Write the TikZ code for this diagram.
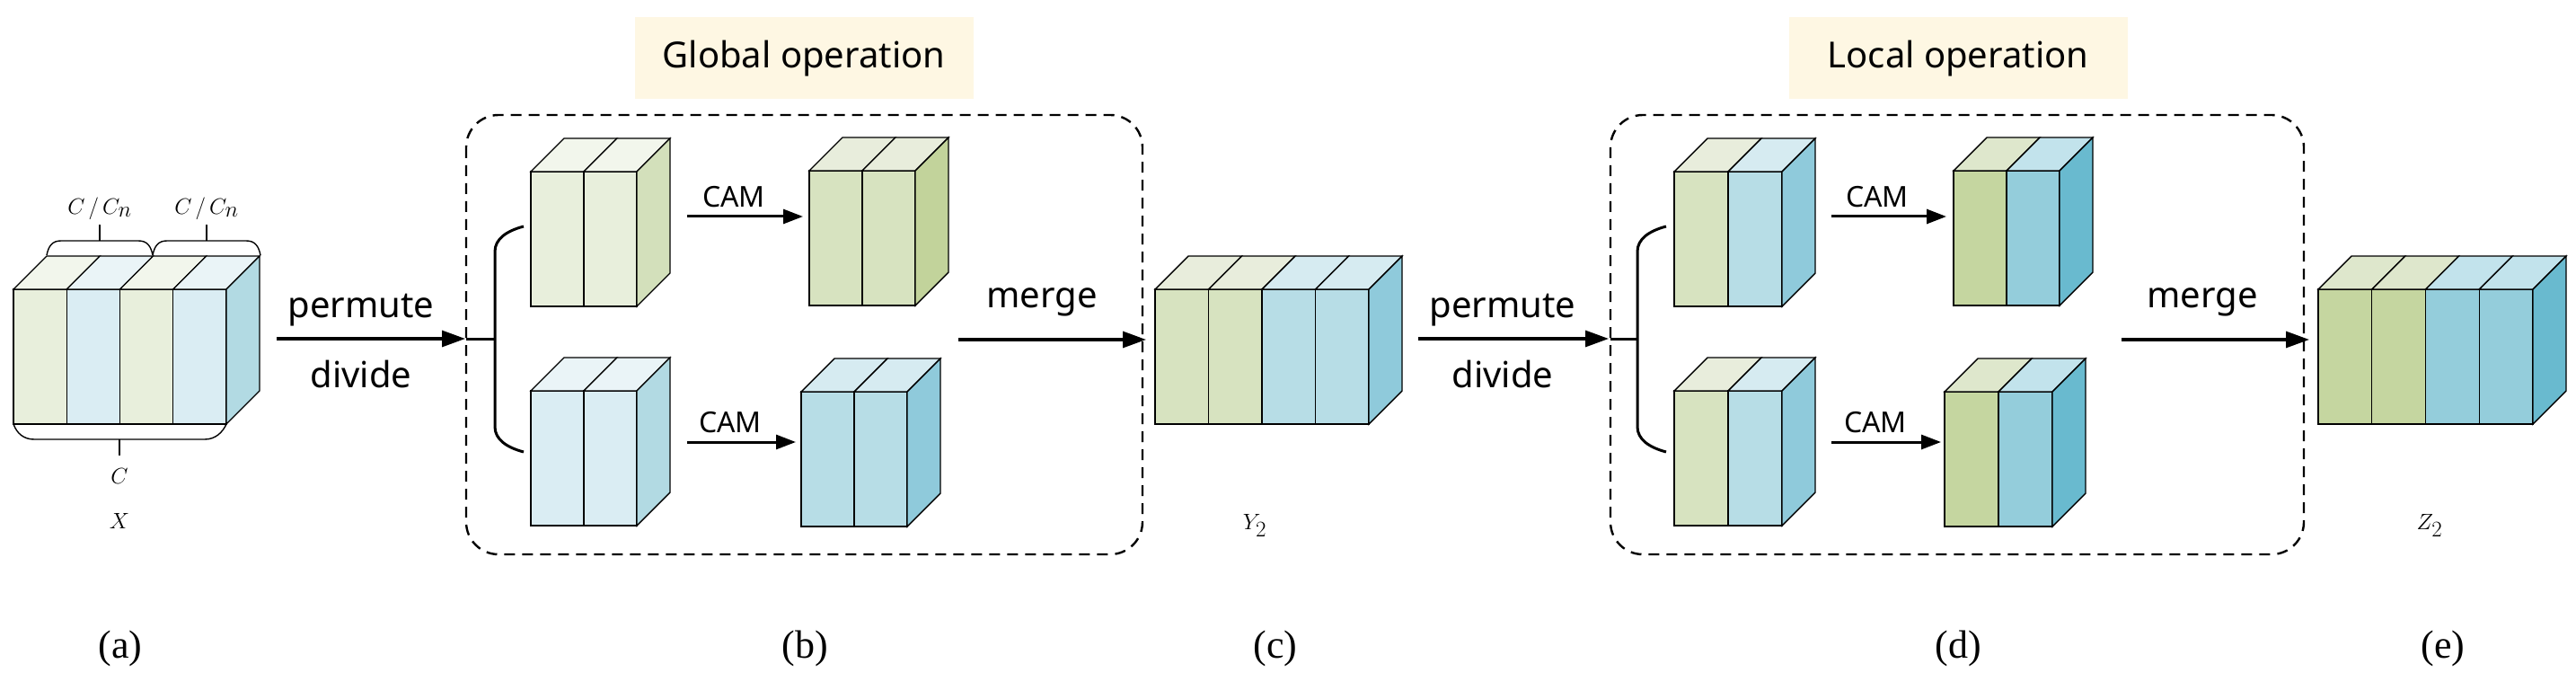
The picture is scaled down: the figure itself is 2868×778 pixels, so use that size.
\documentclass[tikz,border=0pt]{standalone}
\usepackage{fontspec}
\setmainfont{Liberation Serif}
\newfontfamily\sansf{Noto Sans}
\usetikzlibrary{arrows.meta}
\definecolor{gA}{HTML}{E8EFDC}\definecolor{gAt}{HTML}{F2F6EC}\definecolor{gAs}{HTML}{D3E0BB}
\definecolor{bA}{HTML}{DAEDF3}\definecolor{bAt}{HTML}{EAF4F7}\definecolor{bAs}{HTML}{B2DAE3}
\definecolor{gB}{HTML}{D7E3C0}\definecolor{gBt}{HTML}{E8EDDC}\definecolor{gBs}{HTML}{C2D39B}
\definecolor{bB}{HTML}{B7DDE6}\definecolor{bBt}{HTML}{D6EBF1}\definecolor{bBs}{HTML}{8FCADB}
\definecolor{gC}{HTML}{C5D6A0}\definecolor{gCt}{HTML}{DEE7CC}
\definecolor{bC}{HTML}{94CDDB}\definecolor{bCt}{HTML}{C2E3EC}\definecolor{bCs}{HTML}{69BACF}
\definecolor{tag}{HTML}{FEF7E3}
\def\dd{37}
\newcommand\colm[6]{%
 \filldraw[fill=#5,edge] (#1,#2) rectangle ++(#3,#4);
 \filldraw[fill=#6,edge] (#1,#2) -- ++(\dd,-\dd) -- ++(#3,0) -- ++(-\dd,\dd) -- cycle;}
\newcommand\sidef[4]{%
 \filldraw[fill=#4,edge] (#1,#2) -- ++(\dd,-\dd) -- ++(0,#3) -- ++(-\dd,\dd) -- cycle;}
\begin{document}
\begin{tikzpicture}[x=1pt,y=-1pt,
 edge/.style={draw=black,line width=1.4pt},
 flow/.style={line width=3.2pt,-{Triangle[length=26pt,width=18pt]}},
 cam/.style={line width=3pt,-{Triangle[length=22pt,width=16pt]}},
 brk/.style={line width=3pt},
 box/.style={dashed,line width=2.4pt,dash pattern=on 12pt off 8pt,rounded corners=36pt},
 sans/.style={font=\sansf\fontsize{40}{48}\selectfont},
 camt/.style={font=\sansf\fontsize{32}{38}\selectfont},
 mathl/.style={font=\fontsize{34}{40}\selectfont},
 sub/.style={font=\fontsize{44}{52}\selectfont},
 tagbox/.style={fill=tag,font=\sansf\fontsize{40}{48}\selectfont,minimum width=377pt,minimum height=91pt,inner sep=0pt}]
\useasboundingbox (0,0) rectangle (2868,778);
% (a) cube X
\colm{15}{322}{59.25}{150}{gA}{gAt}
\colm{74.25}{322}{59.25}{150}{bA}{bAt}
\colm{133.5}{322}{59.25}{150}{gA}{gAt}
\colm{192.75}{322}{59.25}{150}{bA}{bAt}
\sidef{252}{322}{150}{bAs}
\draw[line width=1.4pt] (52,284) .. controls (54,274) and (58,268) .. (68,268) -- (154,268) .. controls (164,268) and (168,274) .. (170,284);
\draw[line width=1.4pt] (170,284) .. controls (172,274) and (176,268) .. (186,268) -- (274,268) .. controls (284,268) and (288,274) .. (290,284);
\draw[line width=1.4pt] (111,268) -- (111,250) (230,268) -- (230,250);
\draw[line width=1.4pt] (15,472) .. controls (19,483) and (27,489) .. (38,489) -- (228,489) .. controls (240,489) and (248,481) .. (252,472);
\draw[line width=1.4pt] (133,489) -- (133,507);
\node[mathl] (cn1) at (111,232) {$C\,/\,C_n$};
\node[mathl] (cn2) at (230,232) {$C\,/\,C_n$};
\node[mathl] (cc) at (133,530) {$C$};
\node[mathl,font=\fontsize{38}{44}\selectfont] (xl) at (133,580) {$X$};
% arrow 1
\coordinate (a1s) at (308,377); \coordinate (a1e) at (518,377);
\draw[flow] (a1s) -- (a1e);
\node[sans] (p1) at (402,345) {permute};
\node[sans] (d1) at (402,416) {divide};
% box b
\draw[box] (519,128) rectangle (1272,617);
\node[tagbox] (glob) at (895,65) {Global operation};
\coordinate (bj) at (551,377);
\draw[brk] (519,377) -- (bj);
\draw[brk] (583,252) .. controls (564,257) and (551,266) .. (551,280) -- (551,475) .. controls (551,489) and (564,498) .. (583,503);
\colm{591}{191}{59}{150}{gA}{gAt}\colm{650}{191}{59}{150}{gA}{gAt}\sidef{709}{191}{150}{gAs}
\colm{591}{435}{59}{150}{bA}{bAt}\colm{650}{435}{59}{150}{bA}{bAt}\sidef{709}{435}{150}{bAs}
\colm{901}{190}{59}{150}{gB}{gBt}\colm{960}{190}{59}{150}{gB}{gBt}\sidef{1019}{190}{150}{gBs}
\colm{892}{436}{59}{150}{bB}{bBt}\colm{951}{436}{59}{150}{bB}{bBt}\sidef{1010}{436}{150}{bBs}
\coordinate (c1s) at (765,241); \coordinate (c1e) at (894,241);
\coordinate (c2s) at (765,492); \coordinate (c2e) at (886,492);
\draw[cam] (c1s) -- (c1e); \draw[cam] (c2s) -- (c2e);
\node[camt] (cam1) at (817,219) {CAM};
\node[camt] (cam2) at (813,470) {CAM};
\coordinate (m1s) at (1067,378); \coordinate (m1e) at (1276,378);
\draw[flow] (m1s) -- (m1e);
\node[sans] (mg1) at (1160,336) {merge};
% (c) Y2
\colm{1286}{322}{59.5}{150}{gB}{gBt}\colm{1345.5}{322}{59.5}{150}{gB}{gBt}
\colm{1405}{322}{59.5}{150}{bB}{bBt}\colm{1464.5}{322}{59.5}{150}{bB}{bBt}
\sidef{1524}{322}{150}{bBs}
\node[mathl,font=\fontsize{38}{44}\selectfont] (yl) at (1397,585) {$Y_2$};
% arrow 2
\coordinate (a2s) at (1579,377); \coordinate (a2e) at (1791,377);
\draw[flow] (a2s) -- (a2e);
\node[sans] (p2) at (1673,345) {permute};
\node[sans] (d2) at (1673,416) {divide};
% box d
\draw[box] (1793,128) rectangle (2565,617);
\node[tagbox] (loc) at (2180,65) {Local operation};
\coordinate (dj) at (1823,377);
\draw[brk] (1793,377) -- (dj);
\draw[brk] (1855,252) .. controls (1836,257) and (1823,266) .. (1823,280) -- (1823,475) .. controls (1823,489) and (1836,498) .. (1855,503);
\colm{1864}{191}{60}{150}{gB}{gBt}\colm{1924}{191}{60}{150}{bB}{bBt}\sidef{1984}{191}{150}{bBs}
\colm{1864}{435}{60}{150}{gB}{gBt}\colm{1924}{435}{60}{150}{bB}{bBt}\sidef{1984}{435}{150}{bBs}
\colm{2175}{190}{59}{150}{gC}{gCt}\colm{2234}{190}{59}{150}{bC}{bCt}\sidef{2293}{190}{150}{bCs}
\colm{2165}{436}{60}{150}{gC}{gCt}\colm{2225}{436}{60}{150}{bC}{bCt}\sidef{2285}{436}{150}{bCs}
\coordinate (c3s) at (2039,241); \coordinate (c3e) at (2167,241);
\coordinate (c4s) at (2039,492); \coordinate (c4e) at (2161,492);
\draw[cam] (c3s) -- (c3e); \draw[cam] (c4s) -- (c4e);
\node[camt] (cam3) at (2090,219) {CAM};
\node[camt] (cam4) at (2088,470) {CAM};
\coordinate (m2s) at (2362,378); \coordinate (m2e) at (2571,378);
\draw[flow] (m2s) -- (m2e);
\node[sans] (mg2) at (2452,336) {merge};
% (e) Z2
\colm{2581}{322}{59.75}{150}{gC}{gCt}\colm{2640.75}{322}{59.75}{150}{gC}{gCt}
\colm{2700.5}{322}{59.75}{150}{bC}{bCt}\colm{2760.25}{322}{59.75}{150}{bC}{bCt}
\sidef{2820}{322}{150}{bCs}
\node[mathl,font=\fontsize{38}{44}\selectfont] (zl) at (2705,585) {$Z_2$};
% captions
\node[sub] (la) at (134,722) {(a)};
\node[sub] (lb) at (896,722) {(b)};
\node[sub] (lc) at (1420,722) {(c)};
\node[sub] (ld) at (2180,722) {(d)};
\node[sub] (le) at (2720,722) {(e)};
\end{tikzpicture}
\end{document}
